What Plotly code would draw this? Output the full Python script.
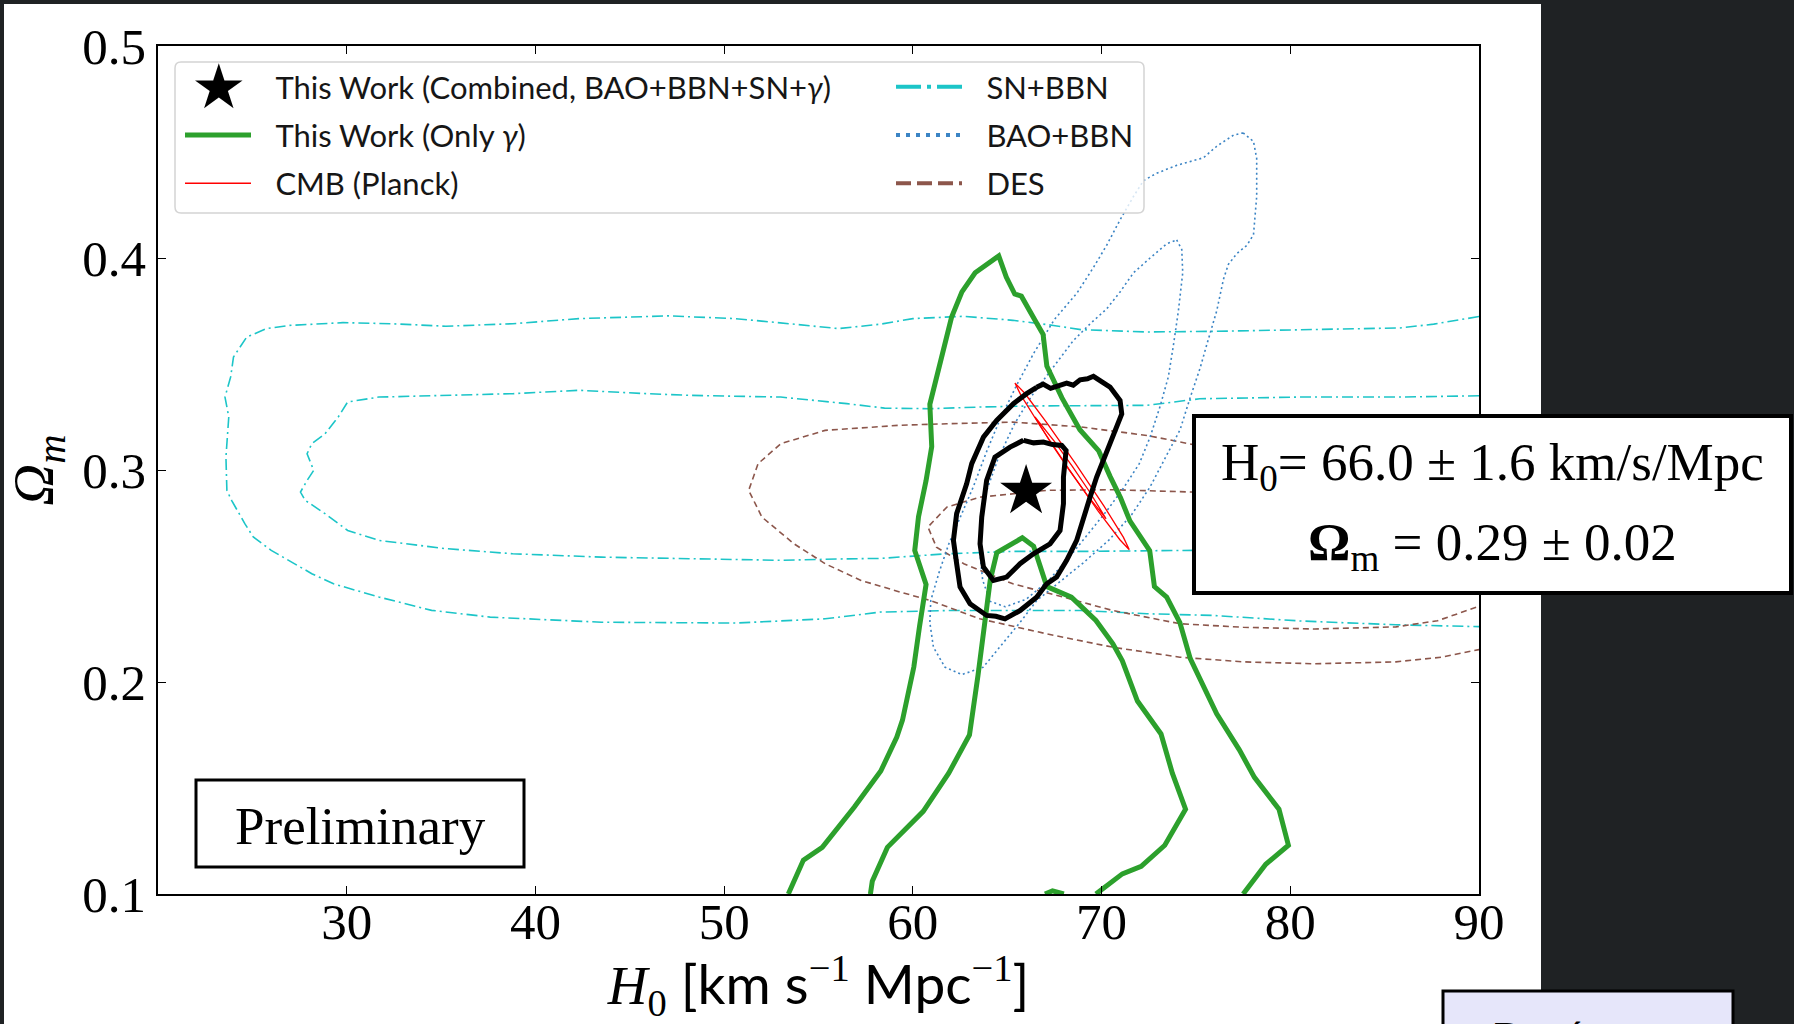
import plotly.graph_objects as go

# ---------------- contour paths: (H0 [km s^-1 Mpc^-1], Omega_m) ----------------

# This work, gamma-ray only (open at the lower axis limit)
gamma_outer = [
    (53.4, 0.100), (54.2, 0.116), (55.2, 0.122), (56.9, 0.141), (58.3, 0.158),
    (59.15, 0.174), (59.45, 0.182), (59.75, 0.194), (60.05, 0.207), (60.35, 0.226),
    (60.7, 0.246), (60.1, 0.262), (60.3, 0.278), (60.7, 0.295), (61.0, 0.311),
    (60.9, 0.331), (61.5, 0.353), (62.05, 0.372), (62.6, 0.384), (63.3, 0.393),
    (64.55, 0.401), (64.95, 0.391), (65.4, 0.383), (65.75, 0.382), (66.45, 0.371),
    (66.9, 0.364), (67.1, 0.349), (67.9, 0.334), (68.85, 0.319), (69.55, 0.312),
    (69.85, 0.309), (70.45, 0.297), (71.0, 0.287), (71.5, 0.276), (72.2, 0.267),
    (72.55, 0.262), (72.8, 0.245), (73.45, 0.240), (74.15, 0.228), (74.7, 0.211),
    (76.1, 0.185), (77.3, 0.168), (78.1, 0.155), (79.4, 0.140), (79.9, 0.123),
    (78.7, 0.114), (77.5, 0.100),
]
gamma_inner = [
    (57.75, 0.100), (57.85, 0.106), (58.65, 0.122), (60.55, 0.139), (61.9, 0.157),
    (63.0, 0.175), (63.45, 0.203), (63.75, 0.226), (64.1, 0.248), (64.45, 0.261),
    (65.8, 0.268), (66.4, 0.264), (66.75, 0.254), (67.1, 0.245), (68.4, 0.240),
    (69.7, 0.229), (70.6, 0.218), (71.1, 0.210), (71.9, 0.191), (73.15, 0.1755),
    (73.75, 0.157), (74.45, 0.140), (73.35, 0.123), (72.1, 0.113), (71.1, 0.1095),
    (69.7, 0.100),
]
gamma_inner_tail = [(67.0, 0.100), (67.4, 0.1015), (68.0, 0.100)]

# This work, combined BAO+BBN+SN+gamma
combined_outer = [
    (66.56, 0.339), (66.9, 0.3405), (67.3, 0.3385), (67.7, 0.3395), (68.15, 0.3410),
    (68.5, 0.3400), (68.86, 0.3425), (69.25, 0.3430), (69.57, 0.3442),
    (70.45, 0.3391), (70.98, 0.3328), (71.07, 0.3265), (70.63, 0.3171), (70.27, 0.3092),
    (69.74, 0.2967), (69.39, 0.2872), (69.04, 0.2762), (68.68, 0.2668), (68.15, 0.2574),
    (67.62, 0.2495), (67.09, 0.2463), (66.56, 0.2400), (65.68, 0.2337), (64.88, 0.2298),
    (64.4, 0.2310), (63.91, 0.2314), (63.03, 0.2369), (62.5, 0.2448), (62.32, 0.2558),
    (62.15, 0.2668), (62.32, 0.2794), (62.85, 0.2935), (63.12, 0.3030), (63.74, 0.3155),
    (64.44, 0.3234), (65.33, 0.3313), (66.03, 0.3360), (66.56, 0.339),
]
combined_inner = [
    (65.86, 0.3140), (66.4, 0.3128), (66.92, 0.3132), (67.4, 0.3120), (67.89, 0.3116),
    (68.12, 0.3092), (67.98, 0.2967), (67.98, 0.2841), (67.8, 0.2715), (67.27, 0.2652),
    (66.39, 0.2605), (65.68, 0.2558), (64.97, 0.2495), (64.6, 0.2486), (64.27, 0.2479),
    (63.74, 0.2542), (63.56, 0.2652), (63.65, 0.2778), (63.91, 0.2951), (64.35, 0.3061),
    (65.15, 0.3108), (65.86, 0.3140),
]
H0_BEST, OM_BEST = 66.0, 0.29
H0_ERR, OM_ERR = 1.6, 0.02

# CMB (Planck)
cmb_outer = [
    (71.47, 0.2624), (71.16, 0.2682), (70.12, 0.2831), (68.63, 0.3029), (67.09, 0.3224),
    (65.92, 0.3363), (65.41, 0.3410), (65.73, 0.3352), (66.77, 0.3204), (68.26, 0.3005),
    (69.79, 0.2810), (70.97, 0.2671), (71.47, 0.2624),
]
cmb_inner = [
    (70.24, 0.2770), (69.38, 0.2895), (68.46, 0.3016), (67.50, 0.3135), (66.47, 0.3250),
    (67.33, 0.3125), (68.25, 0.3004), (69.21, 0.2885), (70.24, 0.2770),
]

# SN+BBN (open at the right axis limit)
sn_outer = [
    (90.0, 0.3724), (87.6, 0.3688), (85.8, 0.3670), (80.5, 0.3661), (75.9, 0.3654),
    (72.4, 0.3651), (68.9, 0.3662), (67.45, 0.3682), (65.3, 0.3706), (62.7, 0.3725),
    (60.0, 0.3714), (58.3, 0.3688), (56.05, 0.3667), (53.45, 0.3690), (50.6, 0.3714),
    (47.05, 0.3727), (42.3, 0.3714), (38.8, 0.3690), (35.25, 0.3678), (32.4, 0.3690),
    (29.8, 0.3695), (26.95, 0.3682), (25.75, 0.3667), (24.7, 0.3627), (24.0, 0.3533),
    (23.85, 0.3439), (23.55, 0.3344), (23.75, 0.3250), (23.6, 0.3061), (23.65, 0.2904),
    (23.9, 0.2857), (24.6, 0.2747), (25.05, 0.2684), (26.0, 0.2621), (28.15, 0.2511),
    (29.3, 0.2463), (31.7, 0.2401), (34.5, 0.2338), (37.6, 0.2306), (43.5, 0.2282),
    (50.6, 0.2278), (55.35, 0.2298), (58.3, 0.2330), (61.8, 0.2337), (65.3, 0.2337),
    (68.9, 0.2337), (72.4, 0.2322), (75.9, 0.2314), (80.5, 0.2288), (85.6, 0.2270),
    (90.0, 0.2261),
]
sn_inner = [
    (90.0, 0.3350), (85.8, 0.3344), (80.5, 0.3344), (75.2, 0.3336), (72.4, 0.3305),
    (68.9, 0.3305), (66.2, 0.3302), (63.55, 0.3297), (60.9, 0.3289), (58.5, 0.3292),
    (56.5, 0.3313), (53.0, 0.3344), (48.25, 0.3352), (45.9, 0.3360), (42.3, 0.3376),
    (38.8, 0.3360), (35.25, 0.3352), (31.7, 0.3344), (30.05, 0.3321), (29.55, 0.3250),
    (28.85, 0.3171), (28.15, 0.3124), (27.9, 0.3077), (28.25, 0.2998), (27.9, 0.2951),
    (27.55, 0.2896), (27.8, 0.2857), (28.85, 0.2794), (30.05, 0.2715), (31.7, 0.2668),
    (35.25, 0.2629), (38.8, 0.2605), (43.5, 0.2589), (48.25, 0.2581), (53.0, 0.2574),
    (56.5, 0.2581), (58.3, 0.2583), (61.8, 0.2605), (65.3, 0.2616), (68.9, 0.2616),
    (72.4, 0.2620), (75.9, 0.2622), (81.3, 0.2624), (90.0, 0.2622),
]

# BAO+BBN
bao_outer = [
    (77.5, 0.459), (78.05, 0.455), (78.22, 0.447), (78.22, 0.429), (78.05, 0.411),
    (77.7, 0.406), (77.16, 0.402), (76.72, 0.397), (76.46, 0.390), (76.1, 0.375),
    (75.57, 0.359), (75.22, 0.348), (74.69, 0.334), (74.16, 0.319), (73.45, 0.307),
    (72.57, 0.292), (71.6, 0.279), (70.4, 0.267), (69.0, 0.256), (67.6, 0.246),
    (66.57, 0.2385), (65.76, 0.229), (64.74, 0.218), (63.73, 0.207), (62.6, 0.2035),
    (61.7, 0.207), (61.09, 0.2164), (60.9, 0.228), (60.95, 0.2385), (61.4, 0.252),
    (61.9, 0.265), (62.5, 0.2778), (63.2, 0.292), (63.9, 0.3085), (64.6, 0.3235),
    (65.5, 0.340), (66.4, 0.355), (67.5, 0.371), (68.7, 0.3835), (69.6, 0.396),
    (70.27, 0.406), (70.98, 0.418), (71.69, 0.429), (72.22, 0.4365), (72.92, 0.440),
    (73.98, 0.4437), (75.4, 0.4473), (76.1, 0.4527), (77.0, 0.458), (77.5, 0.459),
]
bao_inner = [
    (73.98, 0.4085), (74.25, 0.404), (74.3, 0.393), (74.07, 0.375), (73.81, 0.359),
    (73.54, 0.344), (73.1, 0.330), (72.57, 0.3155), (72.0, 0.303), (71.2, 0.292),
    (70.3, 0.281), (69.3, 0.270), (68.3, 0.259), (67.2, 0.248), (66.0, 0.239),
    (64.9, 0.2355), (64.1, 0.238), (63.7, 0.248), (63.56, 0.26), (63.6, 0.272),
    (63.9, 0.290), (64.5, 0.305), (65.4, 0.322), (66.3, 0.335), (67.3, 0.347),
    (68.5, 0.361), (69.4, 0.369), (70.27, 0.376), (70.98, 0.384), (71.69, 0.393),
    (72.57, 0.400), (73.45, 0.4067), (73.98, 0.4085),
]

# DES (open at the right axis limit)
des_outer = [
    (90.0, 0.282), (85.0, 0.293), (80.0, 0.303), (74.86, 0.3122), (72.4, 0.3163),
    (68.9, 0.3203), (65.3, 0.3226), (61.8, 0.3218), (59.3, 0.3211), (55.35, 0.3187),
    (53.0, 0.3124), (51.8, 0.3030), (51.3, 0.2904), (52.0, 0.2778), (53.7, 0.2652),
    (55.35, 0.2558), (57.25, 0.2479), (59.3, 0.2425), (60.9, 0.2385), (63.55, 0.2298),
    (67.1, 0.2227), (70.6, 0.2164), (74.15, 0.2117), (77.5, 0.2095), (81.3, 0.2086),
    (85.6, 0.2095), (88.0, 0.2117), (90.0, 0.2153),
]
des_inner = [
    (90.0, 0.262), (85.0, 0.275), (80.0, 0.285), (74.86, 0.2896), (70.6, 0.2907),
    (67.1, 0.2904), (63.55, 0.2872), (61.8, 0.2825), (60.8, 0.2731), (61.25, 0.2636),
    (62.7, 0.2558), (65.3, 0.2463), (68.0, 0.2400), (70.6, 0.2337), (74.15, 0.2275),
    (77.5, 0.2258), (81.3, 0.2250), (85.6, 0.2260), (87.8, 0.2289), (90.0, 0.2357),
]

X_TICKS = [30, 40, 50, 60, 70, 80, 90]
Y_TICKS = [0.1, 0.2, 0.3, 0.4, 0.5]
Y_TICK_TEXT = ["0.1", "0.2", "0.3", "0.4", "0.5"]

# ---------------- page geometry (pixels) ----------------
W, H = 1794, 1024
ML, MR, MT, MB = 158, 315, 46, 130
PW = W - ML - MR
PH = H - MT - MB


def px(xp):
    return (xp - ML) / PW


def py(yp):
    return (H - MB - yp) / PH


SERIF = "Liberation Serif"
SANS = "Lato"

C_GREEN = "#2ca02c"
C_RED = "#ff0000"
C_CYAN = "#1cc5c8"
C_BLUE = "#3b84c4"
C_BROWN = "#8c564b"

fig = go.Figure()


def add_path(points, color, width, dash="solid"):
    fig.add_trace(go.Scatter(
        x=[p[0] for p in points], y=[p[1] for p in points], mode="lines",
        line=dict(color=color, width=width, dash=dash),
        showlegend=False, hoverinfo="skip"))


# constraints from other probes
for pts in (sn_outer, sn_inner):
    add_path(pts, C_CYAN, 1.6, "11px,4px,2px,4px")
for pts in (des_outer, des_inner):
    add_path(pts, C_BROWN, 1.6, "6px,4px")
for pts in (bao_outer, bao_inner):
    add_path(pts, C_BLUE, 1.6, "2px,3px")
# this work
for pts in (gamma_outer, gamma_inner, gamma_inner_tail):
    add_path(pts, C_GREEN, 5)
for pts in (cmb_outer, cmb_inner):
    add_path(pts, C_RED, 1.3)
for pts in (combined_outer, combined_inner):
    add_path(pts, "black", 5)

fig.add_trace(go.Scatter(
    x=[H0_BEST], y=[OM_BEST], mode="markers",
    marker=dict(symbol="star", size=39, color="black", line=dict(width=0)),
    showlegend=False, hoverinfo="skip"))


# ---------------- legend entries ----------------
GAP = "\u2002\u2009"  # space between the line sample and the label


def legend_entry(name, legend, group, line=None, marker=None, mode="lines"):
    fig.add_trace(go.Scatter(
        x=[None], y=[None], mode=mode, name=GAP + name, legend=legend,
        legendgroup=group, line=line, marker=marker, hoverinfo="skip"))


legend_entry("This Work (Combined, BAO+BBN+SN+<i>γ</i>)", "legend", "g1",
             marker=dict(symbol="star", size=16, color="rgba(0,0,0,0)"), mode="markers")
legend_entry("This Work (Only <i>γ</i>)", "legend", "g2",
             line=dict(color=C_GREEN, width=5))
legend_entry("CMB (Planck)", "legend", "g3", line=dict(color=C_RED, width=1.5))
legend_entry("SN+BBN", "legend2", "g4",
             line=dict(color=C_CYAN, width=4, dash="25px,6px,4px,6px"))
legend_entry("BAO+BBN", "legend2", "g5",
             line=dict(color=C_BLUE, width=4, dash="4px,6px"))
legend_entry("DES", "legend2", "g6",
             line=dict(color=C_BROWN, width=4, dash="15px,6px"))

legend_style = dict(
    yanchor="top", xanchor="left", bgcolor="rgba(0,0,0,0)", borderwidth=0,
    font=dict(family=SANS, size=31, color="#161616"), itemwidth=66,
    traceorder="grouped", tracegroupgap=5)

# ---------------- boxes and page ----------------
shapes = []
# page area behind the figure
shapes.append(dict(type="rect", xref="paper", yref="paper", layer="below",
                   x0=px(4), x1=px(1541), y0=py(1024), y1=py(4),
                   fillcolor="white", line=dict(width=0)))
# legend frame with rounded corners
r = 6
x0, x1, y0, y1 = px(175), px(1144), py(213), py(62)
rx, ry = r / PW, r / PH
shapes.append(dict(
    type="path", xref="paper", yref="paper", layer="above",
    path=(f"M{x0+rx},{y1} L{x1-rx},{y1} Q{x1},{y1} {x1},{y1-ry} L{x1},{y0+ry} "
          f"Q{x1},{y0} {x1-rx},{y0} L{x0+rx},{y0} Q{x0},{y0} {x0},{y0+ry} "
          f"L{x0},{y1-ry} Q{x0},{y1} {x0+rx},{y1} Z"),
    fillcolor="rgba(255,255,255,0.8)", line=dict(color="#d4d4d4", width=1.5)))
# "Preliminary" box
shapes.append(dict(type="rect", xref="paper", yref="paper", layer="above",
                   x0=px(196), x1=px(524), y0=py(867), y1=py(780),
                   fillcolor="white", line=dict(color="black", width=3)))
# result box
shapes.append(dict(type="rect", xref="paper", yref="paper", layer="above",
                   x0=px(1194), x1=px(1791), y0=py(593), y1=py(416),
                   fillcolor="white", line=dict(color="black", width=4)))
# citation box at the lower right
shapes.append(dict(type="rect", xref="paper", yref="paper", layer="above",
                   x0=px(1443), x1=px(1733), y0=py(1050), y1=py(991),
                   fillcolor="#e6e6fa", line=dict(color="black", width=3)))


def label(text, xp, yp, size, family=SERIF, **kw):
    d = dict(text=text, x=px(xp), y=py(yp), xref="paper", yref="paper",
             xanchor="center", yanchor="middle", showarrow=False,
             font=dict(family=family, size=size, color="black"))
    d.update(kw)
    return d


annotations = [
    label("★", 219, 87, 62, family="DejaVu Sans"),
    label("Preliminary", 360, 826, 53),
    label(f"H<sub>0</sub>= {H0_BEST:.1f} ± {H0_ERR:.1f} km/s/Mpc", 1492, 466, 53),
    label(f"<b>Ω</b><sub>m</sub> = {OM_BEST:.2f} ± {OM_ERR:.2f}", 1492, 546, 53),
    label("Domínguez et<br>al.", 1492, 1012, 38, xanchor="left", yanchor="top",
          align="left"),
]

axis_common = dict(
    ticks="inside", ticklen=8, tickwidth=1.2, tickcolor="black",
    showline=True, linecolor="black", linewidth=1.5, mirror="ticks",
    showgrid=False, zeroline=False,
    tickfont=dict(family=SERIF, size=51, color="black"))

fig.update_layout(
    width=W, height=H, margin=dict(l=ML, r=MR, t=MT, b=MB, autoexpand=False),
    paper_bgcolor="#1f2224", plot_bgcolor="white",
    xaxis=dict(range=[20, 90], tickvals=X_TICKS, **axis_common,
               ticklabelstandoff=-18,
               title=dict(
                   text=(f"<span style='font-family:{SERIF}'><i>H</i><sub>0</sub></span>"
                         f" [km s<sup><span style='font-family:{SERIF}'>−1</span></sup>"
                         f" Mpc<sup><span style='font-family:{SERIF}'>−1</span></sup>]"),
                   font=dict(family=SANS, size=55, color="black"), standoff=4)),
    yaxis=dict(range=[0.1, 0.5], tickvals=Y_TICKS, ticktext=Y_TICK_TEXT, **axis_common,
               title=dict(text="<i>Ω</i><sub><i>m</i></sub>",
                          font=dict(family=SERIF, size=58, color="black"), standoff=10)),
    legend=dict(x=px(180), y=py(60), **legend_style),
    legend2=dict(x=px(891), y=py(60), **legend_style),
    shapes=shapes,
    annotations=annotations,
)

fig.write_html("out.html")
